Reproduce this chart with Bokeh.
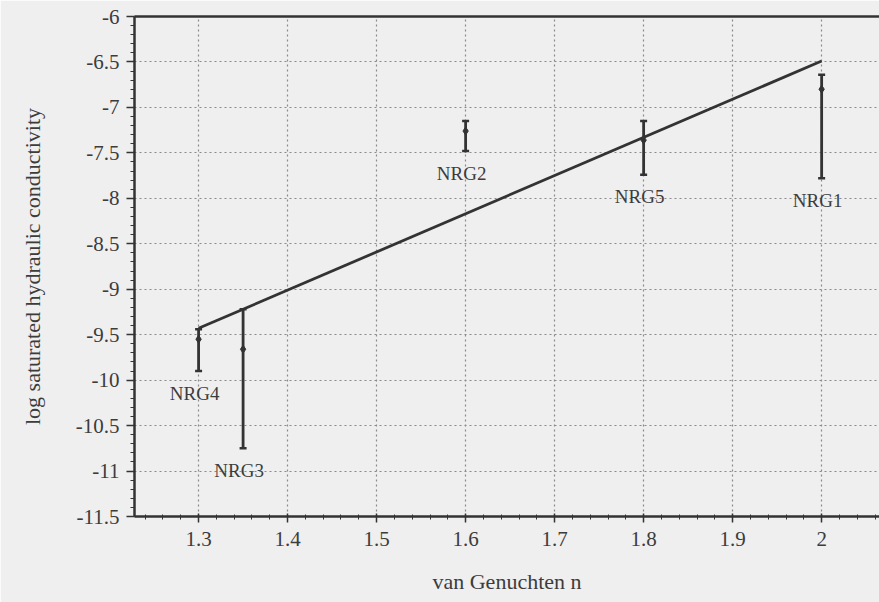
from bokeh.plotting import figure
from bokeh.models import (ColumnDataSource, LabelSet, LinearAxis, FixedTicker, Range1d)
from bokeh.embed import file_html
from bokeh.resources import INLINE

# ---- data ----
sites = ["NRG4", "NRG3", "NRG2", "NRG5", "NRG1"]
van_genuchten_n = [1.30, 1.35, 1.60, 1.80, 2.00]
log_ks_mid = [-9.55, -9.66, -7.26, -7.36, -6.80]
log_ks_low = [-9.90, -10.75, -7.48, -7.74, -7.78]
log_ks_high = [-9.44, -9.22, -7.15, -7.15, -6.64]

fit_n = [1.30, 2.00]
fit_log_ks = [-9.43, -6.49]

x_ticks = [1.3, 1.4, 1.5, 1.6, 1.7, 1.8, 1.9, 2.0]
x_tick_labels = ["1.3", "1.4", "1.5", "1.6", "1.7", "1.8", "1.9", "2"]
y_ticks = [-11.5, -11, -10.5, -10, -9.5, -9, -8.5, -8, -7.5, -7, -6.5, -6]
y_tick_labels = ["-11.5", "-11", "-10.5", "-10", "-9.5", "-9", "-8.5", "-8",
                 "-7.5", "-7", "-6.5", "-6"]

BG = "#efefef"
INK = "#333333"
TXT = "#3c3c3c"
FONT = "Liberation Serif"

src = ColumnDataSource(dict(n=van_genuchten_n, mid=log_ks_mid, low=log_ks_low,
                            high=log_ks_high, name=sites))

p = figure(width=879, height=602, output_backend="svg", toolbar_location=None,
           x_range=Range1d(1.228, 2.065), y_range=Range1d(-11.5, -6.0),
           min_border_left=134, min_border_right=0, min_border_top=16,
           min_border_bottom=86)
p.background_fill_color = BG
p.border_fill_color = BG
p.outline_line_color = None

# axes
p.xaxis.ticker = FixedTicker(ticks=x_ticks,
                             minor_ticks=[round(1.22 + 0.02 * i, 2) for i in range(44)])
p.yaxis.ticker = FixedTicker(ticks=y_ticks,
                             minor_ticks=[round(-11.5 + 0.1 * i, 1) for i in range(56)])
p.xaxis.major_label_overrides = {float(v): s for v, s in zip(x_ticks, x_tick_labels)}
p.yaxis.major_label_overrides = {float(v): s for v, s in zip(y_ticks, y_tick_labels)}
for ax in (p.xaxis[0], p.yaxis[0]):
    ax.axis_line_color = INK
    ax.axis_line_width = 2.5
    ax.major_tick_line_color = INK
    ax.major_tick_line_width = 1.5
    ax.minor_tick_line_color = INK
    ax.minor_tick_line_width = 1
    ax.major_label_text_font = FONT
    ax.major_label_text_font_size = "21px"
    ax.major_label_text_color = TXT
    ax.axis_label_text_font = FONT
    ax.axis_label_text_font_size = "22px"
    ax.axis_label_text_font_style = "normal"
    ax.axis_label_text_color = TXT

p.xaxis.axis_label = "van Genuchten n"
p.xaxis.major_tick_out = 6
p.xaxis.major_tick_in = 3
p.xaxis.minor_tick_out = 3
p.xaxis.minor_tick_in = 2
p.xaxis.major_label_standoff = 9
p.xaxis.axis_label_standoff = 20

p.yaxis.axis_label = "log saturated hydraulic conductivity"
p.yaxis.major_tick_out = 8
p.yaxis.major_tick_in = 0
p.yaxis.minor_tick_out = 4
p.yaxis.minor_tick_in = 0
p.yaxis.major_label_standoff = 7
p.yaxis.axis_label_standoff = 28

# top border as an empty axis
top = LinearAxis(ticker=FixedTicker(ticks=[]), axis_line_color=INK, axis_line_width=2.5,
                 major_tick_out=0, major_tick_in=0, minor_tick_out=0, minor_tick_in=0,
                 major_label_standoff=0, major_label_text_font_size="0px")
p.add_layout(top, "above")

# grid
for g in (p.xgrid[0], p.ygrid[0]):
    g.grid_line_color = "#8a8a8a"
    g.grid_line_width = 1.2
    g.grid_line_dash = "2 3"
p.xgrid.ticker = FixedTicker(ticks=x_ticks)
p.ygrid.ticker = FixedTicker(ticks=y_ticks[1:-1])

# regression line
p.line(fit_n, fit_log_ks, line_color=INK, line_width=2.8)

# error bars
p.segment(x0="n", y0="low", x1="n", y1="high", source=src, line_color=INK, line_width=2.8)
p.scatter(x="n", y="low", source=src, marker="dash", size=7, line_color=INK, line_width=2.5)
p.scatter(x="n", y="high", source=src, marker="dash", size=7, line_color=INK, line_width=2.5)
p.scatter(x="n", y="mid", source=src, marker="diamond", size=8, fill_color=INK, line_color=INK)

labels = LabelSet(x="n", y="low", text="name", source=src, y_offset=-22, x_offset=-4,
                  text_align="center", text_baseline="middle", text_font=FONT,
                  text_font_size="19px", text_color=TXT)
p.add_layout(labels)

open("out.html", "w").write(file_html(p, INLINE))
